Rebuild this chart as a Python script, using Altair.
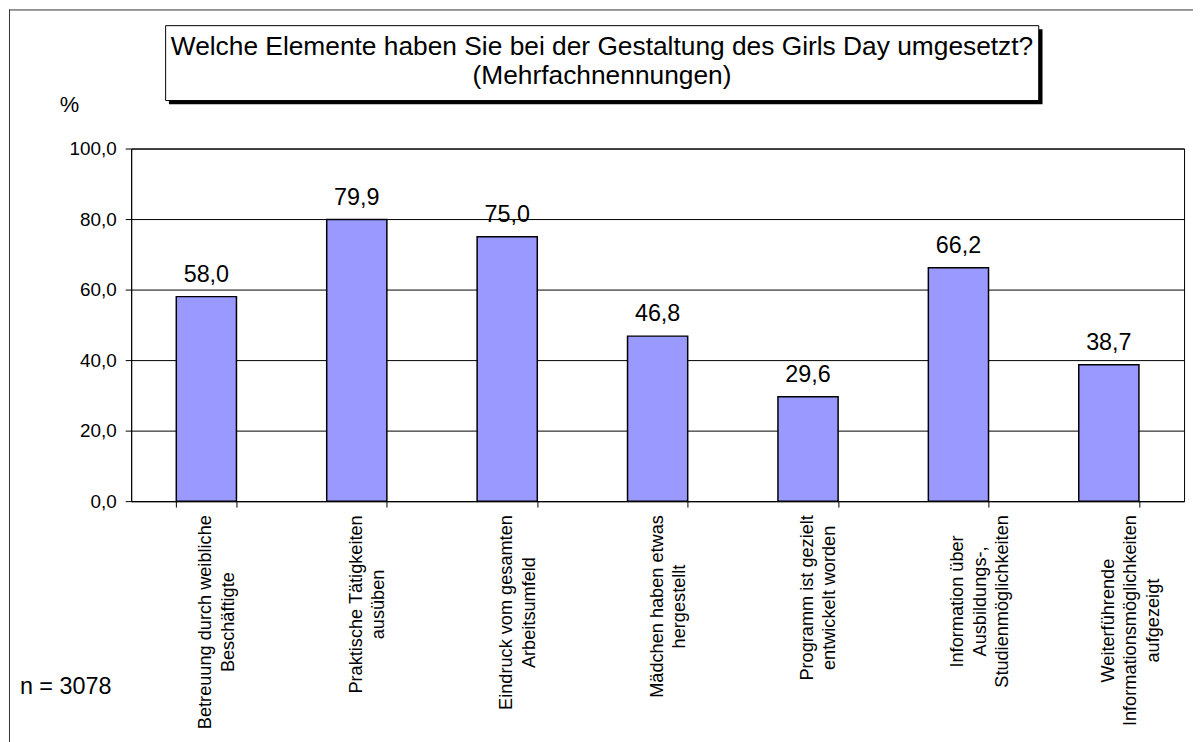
import altair as alt
import pandas as pd

FONT = "Liberation Sans"

categories = [
    "Betreuung durch weibliche\nBeschäftigte",
    "Praktische Tätigkeiten\nausüben",
    "Eindruck vom gesamten\nArbeitsumfeld",
    "Mädchen haben etwas\nhergestellt",
    "Programm ist gezielt\nentwickelt worden",
    "Information über\nAusbildungs-,\nStudienmöglichkeiten",
    "Weiterführende\nInformationsmöglichkeiten\naufgezeigt",
]
values = [58.0, 79.9, 75.0, 46.8, 29.6, 66.2, 38.7]
y_ticks = [0, 20, 40, 60, 80, 100]
title_lines = [
    "Welche Elemente haben Sie bei der Gestaltung des Girls Day umgesetzt?",
    "(Mehrfachnennungen)",
]
y_unit = "%"
sample_note = "n = 3078"

# --- layout helpers (Arial / Liberation Sans advance widths, per 1000 em) ---
CAT_FONT_SIZE = 18.3
PLOT_H = 355
LABEL_TOP = PLOT_H + 14  # where the longest label line starts, below the axis
_W = {
    " ": 278, ",": 278, "-": 333, ".": 278,
    "a": 556, "b": 556, "c": 500, "d": 556, "e": 556, "f": 278, "g": 556, "h": 556,
    "i": 222, "j": 222, "k": 500, "l": 222, "m": 833, "n": 556, "o": 556, "p": 556,
    "q": 556, "r": 333, "s": 500, "t": 278, "u": 556, "v": 500, "w": 722, "x": 500,
    "y": 500, "z": 500, "ä": 556, "ö": 556, "ü": 556,
    "A": 667, "B": 667, "E": 667, "I": 278, "M": 833, "P": 667, "S": 667, "T": 611, "W": 944,
}


def text_len(s, size):
    return sum(_W.get(ch, 556) for ch in s) / 1000.0 * size


label_center = [
    LABEL_TOP + max(text_len(line, CAT_FONT_SIZE) for line in c.split("\n")) / 2.0
    for c in categories
]

df = pd.DataFrame({"cat": categories, "value": values})
lab_df = pd.DataFrame({"cat": categories, "ypos": label_center})
one = pd.DataFrame({"k": [0]})

x_enc = alt.X(
    "cat:N",
    sort=categories,
    scale=alt.Scale(paddingInner=0.6, paddingOuter=0.3),
    axis=alt.Axis(
        title=None,
        labels=False,
        tickBand="extent",
        tickSize=6,
        tickColor="black",
        domainColor="black",
        grid=False,
    ),
)
y_enc = alt.Y(
    "value:Q",
    scale=alt.Scale(domain=[0, 100], nice=False),
    axis=alt.Axis(
        title=None,
        values=y_ticks,
        labelExpr="replace(format(datum.value, '.1f'), '.', ',')",
        labelFont=FONT,
        labelFontSize=19,
        labelColor="black",
        labelPadding=9,
        tickSize=6,
        tickColor="black",
        domainColor="black",
        gridColor="black",
        gridWidth=1,
        gridOpacity=1,
    ),
)

base = alt.Chart(df)
bars = base.mark_bar(color="#9999FF", stroke="black", strokeWidth=1.5).encode(x=x_enc, y=y_enc)
labels = (
    base.transform_calculate(lab="replace(format(datum.value, '.1f'), '.', ',')")
    .mark_text(baseline="alphabetic", dy=-15, fontSize=23.5, font=FONT, color="black")
    .encode(x=alt.X("cat:N", sort=categories), y="value:Q", text="lab:N")
)
cat_labels = alt.Chart(lab_df).mark_text(
    angle=270, align="center", baseline="middle", lineBreak="\n", lineHeight=22.5,
    fontSize=CAT_FONT_SIZE, font=FONT, color="black",
).encode(
    x=alt.X("cat:N", sort=categories),
    y=alt.Y("ypos:Q", scale=None),
    text="cat:N",
)

deco = alt.Chart(one)
frame_left = deco.mark_rule(color="#333333", strokeWidth=1).encode(
    x=alt.value(-122.5), y=alt.value(-140), y2=alt.value(700)
)
frame_top = deco.mark_rule(color="#333333", strokeWidth=1).encode(
    x=alt.value(-123), x2=alt.value(1075), y=alt.value(-139.5)
)
shadow = deco.mark_rect(color="black").encode(
    x=alt.value(38), x2=alt.value(917.5), y=alt.value(-120), y2=alt.value(-44.5)
)
box = deco.mark_rect(fill="white", stroke="black", strokeWidth=1).encode(
    x=alt.value(34.7), x2=alt.value(913.7), y=alt.value(-123.7), y2=alt.value(-48.3)
)
title = deco.mark_text(
    text="\n".join(title_lines), lineBreak="\n", lineHeight=28.4, fontSize=26.5, font=FONT,
    color="black", align="center", baseline="alphabetic",
).encode(x=alt.value(474), y=alt.value(-93.7))
unit = deco.mark_text(
    text=y_unit, fontSize=22, font=FONT, color="black", align="left", baseline="alphabetic"
).encode(x=alt.value(-72), y=alt.value(-37))
note = deco.mark_text(
    text=sample_note, fontSize=23.5, font=FONT, color="black", align="left", baseline="alphabetic"
).encode(x=alt.value(-112), y=alt.value(549))

chart = (
    alt.layer(frame_left, frame_top, shadow, box, title, bars, labels, cat_labels, unit, note)
    .properties(
        width=1060,
        height=PLOT_H,
        autosize=alt.AutoSizeParams(type="none"),
        padding={"left": 124, "top": 139, "right": 9, "bottom": 240},
        background="white",
    )
    .configure_view(stroke="black", strokeWidth=1)
)

chart.save("out.html", embed_options={"renderer": "svg", "actions": False})
